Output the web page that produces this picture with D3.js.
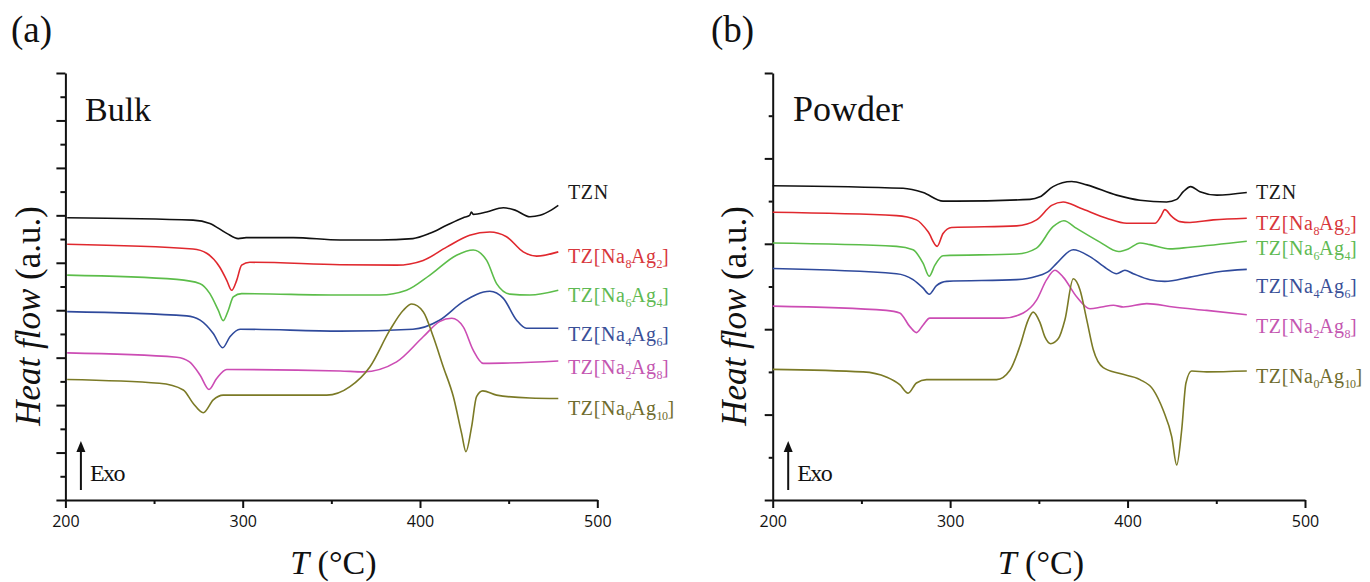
<!DOCTYPE html>
<html>
<head>
<meta charset="utf-8">
<script src="https://cdn.jsdelivr.net/npm/d3@7/dist/d3.min.js"></script>
<style>
  body { margin: 0; background: #fff; }
  svg { display: block; }
</style>
</head>
<body>
<svg id="chart" width="1370" height="582"></svg>
<script>
// ---- Data: DSC heat-flow traces, [temperature °C, heat flow a.u.] ----
const seriesNames = ["TZN", "TZ[Na8Ag2]", "TZ[Na6Ag4]", "TZ[Na4Ag6]", "TZ[Na2Ag8]", "TZ[Na0Ag10]"];
const xMajorTicks = [200, 300, 400, 500];
const xMinorTicks = [250, 350, 450];

// Bulk samples
const bulkTZN = [[201,59.5],[272,59.0],[281.5,58.3],[291,56.2],[297.5,55.1],[302,55.3],[328.5,55.3],[355,54.8],[377,54.8],[396,55.1],[405.6,56.2],[415,57.9],[424.4,59.5],[428,60.0],[429,60.7],[430,60.2],[437.6,60.7],[447,61.6],[453.6,61.1],[462,59.7],[467.7,60.0],[474,61.1],[478,62.1]];
const bulkNa8Ag2 = [[201,53.9],[272,52.9],[279.7,52.0],[287,49.1],[291,46.3],[293.8,44.2],[296.6,46.3],[299.4,49.5],[304,50.1],[355,49.6],[386.8,49.5],[401.8,50.5],[415,53.3],[428,55.8],[439.4,56.5],[448.8,55.5],[458.2,52.3],[465.8,51.4],[478,52.3]];
const bulkNa6Ag4 = [[201,47.4],[262.8,46.5],[276,45.6],[281.5,43.5],[286.2,40.0],[289,37.8],[291.9,40.0],[294.7,42.8],[299.4,43.5],[355,43.2],[377.4,43.2],[392.4,44.2],[405.6,47.4],[420.6,51.6],[430,52.7],[437.6,50.5],[443.2,45.6],[450.7,43.4],[462,43.2],[478,44.2]];
const bulkNa4Ag6 = [[201,39.7],[268.4,38.8],[276,37.9],[283.4,35.1],[288.7,32.1],[292.8,34.4],[298.5,36.0],[355,35.6],[396,36.0],[411,37.9],[424.4,41.8],[439.4,44.0],[447,42.5],[454.5,37.9],[460,36.2],[478,36.2]];
const bulkNa2Ag8 = [[201,31.0],[262.8,30.1],[270,29.1],[276,26.3],[281,23.3],[285.3,25.6],[291,27.5],[355,27.2],[368,27.0],[386.8,29.1],[401.8,34.4],[411,37.6],[417.9,38.3],[424.4,36.5],[430,31.6],[435.7,28.8],[478,29.3]];
const bulkNa0Ag10 = [[201,25.4],[253,24.6],[266.5,23.2],[272,20.4],[277.8,18.4],[283.4,21.1],[289,22.1],[347.4,22.1],[360.5,23.9],[371.8,28.1],[383,35.8],[390.6,40.0],[395.3,41.3],[401.8,39.7],[407.5,34.4],[413.1,28.1],[418.8,21.8],[423.5,14.0],[425.9,10.2],[429.1,15.4],[431.9,21.8],[435.4,23.0],[443.2,22.1],[462,21.5],[478,21.4]];

// Powder samples
const powderTZN = [[200,36.8],[273.5,36.5],[284.8,36.0],[296,35.0],[303.6,35.0],[345,35.2],[350.6,35.5],[358,36.7],[368.5,37.3],[377,36.9],[393.8,35.7],[407,35.1],[422,34.9],[427.7,35.2],[431.4,36.1],[435.6,36.7],[440.8,36.1],[450.3,35.7],[467.2,36.0]];
const powderNa8Ag2 = [[200,33.7],[269.8,33.3],[281,32.8],[287.6,31.4],[292.7,29.7],[296,31.2],[300.8,31.9],[337.5,32.1],[348.7,32.8],[357.2,34.5],[363.7,34.9],[373.2,34.2],[388.2,33.0],[399.5,32.4],[415.5,32.4],[418.7,33.2],[421,34.0],[424.9,33.2],[429.5,32.6],[435.2,32.5],[448.3,32.8],[467.2,33.0]];
const powderNa6Ag4 = [[200,30.1],[269.8,29.7],[279.1,29.3],[284.8,27.7],[288.2,26.2],[291.4,27.5],[296,28.6],[337.5,28.8],[348.7,29.5],[358,32.0],[364.1,32.7],[371.3,31.8],[384.4,30.2],[394.8,29.1],[400.4,29.4],[407,30.1],[412.6,29.9],[423.9,29.4],[435.2,29.6],[467.2,30.3]];
const powderNa4Ag6 = [[200,27.1],[269.8,26.5],[279.1,25.8],[284.8,24.8],[288.2,24.1],[292.3,25.1],[298,25.6],[337.5,25.8],[348.7,26.2],[356.2,26.9],[360,27.7],[369.4,29.3],[378.8,28.5],[388.2,27.1],[393.8,26.5],[398.5,26.9],[403.2,26.5],[412.6,25.8],[421,25.6],[435.2,26.1],[450.3,26.7],[467.2,27.0]];
const powderNa2Ag8 = [[200,22.7],[264,22.2],[271.6,21.9],[277.3,20.3],[281,19.6],[284.8,20.5],[288.5,21.3],[329.9,21.3],[341.2,21.9],[348.7,23.4],[354.4,25.8],[359,26.9],[363.7,26.1],[371.3,23.8],[378.8,22.4],[385.4,22.6],[392,22.8],[397.6,22.6],[410.8,23.0],[425.8,22.6],[444.6,22.2],[467.2,21.7]];
const powderNa0Ag10 = [[200,15.3],[251,15.0],[264,14.4],[271.6,13.5],[276.3,12.5],[281,13.7],[286.7,14.1],[326.2,14.1],[333.7,15.2],[339.3,18.0],[344,21.1],[346.8,22.0],[350.6,20.8],[353.4,19.1],[356.7,18.3],[361,18.9],[364.7,21.1],[369.4,25.9],[373.2,24.6],[377,21.1],[380.7,17.6],[386.3,15.5],[395.7,14.8],[407,14.1],[414.5,12.9],[420.1,10.5],[424.9,7.4],[427.7,4.1],[430.5,8.2],[432.9,13.7],[436.1,15.1],[444.6,15.0],[467.2,15.1]];

// ---- Styling ----
const lineColors  = ["#111111", "#e0282e", "#5cbd4a", "#2f4a9c", "#cc4cb4", "#7b7a26"];
const labelColors = ["#1a1a1a", "#d8383d", "#5fba53", "#3a5098", "#c457b1", "#6f6c2e"];
const serif = "'Liberation Serif', 'Times New Roman', serif";

const panels = [
  {
    letter: "(a)", letterX: 11, title: "Bulk", titleSize: 34, titleX: 85,
    x0: 65.4, x1: 597.3, yMax: 90,
    series: [bulkTZN, bulkNa8Ag2, bulkNa6Ag4, bulkNa4Ag6, bulkNa2Ag8, bulkNa0Ag10],
    labelX: 568, labelY: [199, 263, 302, 341, 374, 415],
    yTitleX: 40, majorY: 9, minorY: 5
  },
  {
    letter: "(b)", letterX: 711, title: "Powder", titleSize: 36, titleX: 793,
    x0: 772.7, x1: 1305, yMax: 50,
    series: [powderTZN, powderNa8Ag2, powderNa6Ag4, powderNa4Ag6, powderNa2Ag8, powderNa0Ag10],
    labelX: 1256, labelY: [199, 230, 255, 293, 333, 383],
    yTitleX: 746, majorY: 8, minorY: 4
  }
];

const svg = d3.select("#chart");
const yBottom = 500, yTop = 73;

// Chemical formula label with numeric subscripts
function formulaText(sel, name) {
  const parts = name.split(/(\d+)/).filter(s => s.length);
  let shifted = false;
  parts.forEach(p => {
    const isNum = /^\d+$/.test(p);
    const t = sel.append("tspan").text(p);
    if (isNum) { t.attr("font-size", 12).attr("letter-spacing", -0.5).attr("dy", shifted ? 0 : 5); shifted = true; }
    else if (shifted) { t.attr("dy", -5); shifted = false; }
  });
}

panels.forEach(p => {
  const x = d3.scaleLinear().domain([200, 500]).range([p.x0, p.x1]);
  const y = d3.scaleLinear().domain([0, p.yMax]).range([yBottom, yTop]);
  const g = svg.append("g");

  // Panel letter and sample form
  g.append("text").attr("x", p.letterX).attr("y", 42)
    .attr("font-family", serif).attr("font-size", 37).attr("fill", "#111").text(p.letter);
  g.append("text").attr("x", p.titleX).attr("y", 121)
    .attr("font-family", serif).attr("font-size", p.titleSize).attr("fill", "#111").text(p.title);

  // Axes: major and minor ticks
  const yMajor = d3.range(0, p.yMax + 1, 10);
  const yMinor = d3.range(5, p.yMax, 10);
  const axisStyle = a => {
    a.selectAll("path, line").attr("stroke", "#111").attr("stroke-width", 2);
  };
  g.append("g").attr("transform", `translate(${p.x0},0)`)
    .call(d3.axisLeft(y).tickValues(yMinor).tickSize(p.minorY).tickFormat(""))
    .call(a => a.select(".domain").remove()).call(axisStyle);
  g.append("g").attr("transform", `translate(${p.x0},0)`)
    .call(d3.axisLeft(y).tickValues(yMajor).tickSize(p.majorY).tickSizeOuter(0).tickFormat(""))
    .call(axisStyle);
  g.append("g").attr("transform", `translate(0,${yBottom})`)
    .call(d3.axisBottom(x).tickValues(xMinorTicks).tickSize(4).tickFormat(""))
    .call(a => a.select(".domain").remove()).call(axisStyle);
  const xa = g.append("g").attr("transform", `translate(0,${yBottom})`)
    .call(d3.axisBottom(x).tickValues(xMajorTicks).tickSize(8).tickSizeOuter(0).tickPadding(8).tickFormat(d3.format("d")))
    .call(axisStyle);
  xa.selectAll("text").attr("font-family", "'Open Sans', sans-serif").attr("font-size", 16).attr("fill", "#111");

  // Axis titles
  const xt = g.append("text").attr("x", (p.x0 + p.x1) / 2 + 2).attr("y", 574)
    .attr("text-anchor", "middle").attr("font-family", serif).attr("font-size", 34).attr("fill", "#111");
  xt.append("tspan").attr("font-style", "italic").text("T");
  xt.append("tspan").text(" (°C)");
  const yt = g.append("text").attr("transform", `translate(${p.yTitleX},316) rotate(-90)`)
    .attr("text-anchor", "middle").attr("font-family", serif).attr("font-size", 35).attr("fill", "#111");
  yt.append("tspan").attr("font-style", "italic").text("Heat flow");
  yt.append("tspan").text(" (a.u.)");

  // Exo direction marker
  const ax = p.x0 + 15.5;
  g.append("line").attr("x1", ax).attr("x2", ax).attr("y1", 490).attr("y2", 450)
    .attr("stroke", "#111").attr("stroke-width", 2);
  g.append("path").attr("d", `M${ax},441 L${ax - 4.5},452 L${ax + 4.5},452 Z`).attr("fill", "#111");
  g.append("text").attr("x", ax + 9).attr("y", 481).attr("font-family", serif)
    .attr("font-size", 24).attr("letter-spacing", -1.5).attr("fill", "#111").text("Exo");

  // Heat-flow traces
  const line = d3.line().x(d => x(d[0])).y(d => y(d[1])).curve(d3.curveMonotoneX);
  p.series.forEach((s, i) => {
    g.append("path").datum(s).attr("d", line)
      .attr("fill", "none").attr("stroke", lineColors[i]).attr("stroke-width", 1.6)
      .attr("stroke-linejoin", "round");
    const t = g.append("text").attr("x", p.labelX).attr("y", p.labelY[i])
      .attr("font-family", serif).attr("font-size", 20).attr("letter-spacing", 0.6)
      .attr("fill", labelColors[i]);
    formulaText(t, seriesNames[i]);
  });
});
</script>
</body>
</html>
